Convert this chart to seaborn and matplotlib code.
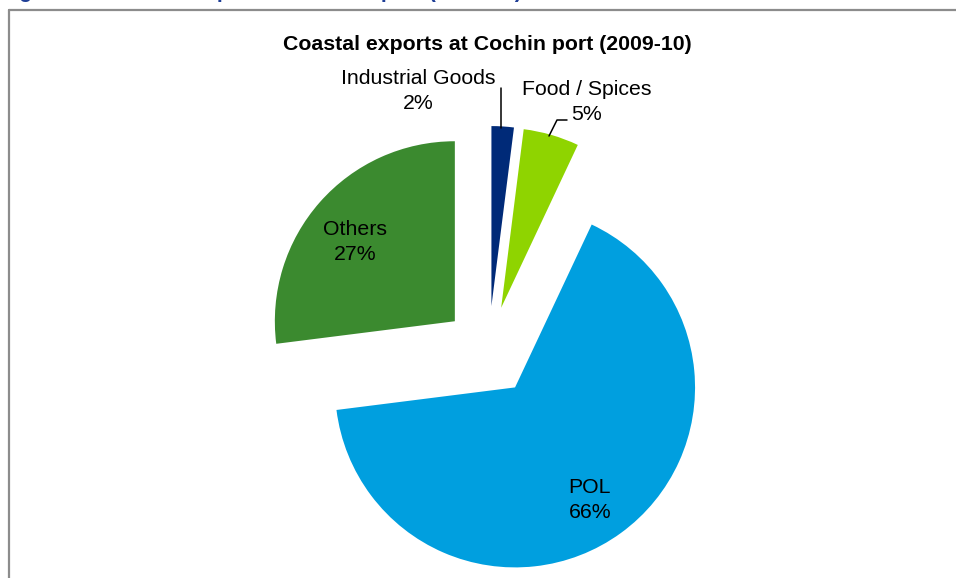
import matplotlib
matplotlib.use("Agg")
import matplotlib.pyplot as plt
from matplotlib.lines import Line2D
import seaborn as sns

# Coastal exports at Cochin port, 2009-10 (share of tonnage, %)
categories = ["Industrial Goods", "Food / Spices", "POL", "Others"]
shares = [2, 5, 66, 27]
colors = ["#002A78", "#8FD400", "#009FDF", "#3B8A2F"]
title = "Coastal exports at Cochin port (2009-10)"
header = "Figure 12: Coastal exports at Cochin port (2009-10)"

sns.set_theme(style="white")
plt.rcParams["font.family"] = ["Liberation Sans", "DejaVu Sans"]

W, H = 956, 578
fig = plt.figure(figsize=(W / 100, H / 100), dpi=100)
ax = fig.add_axes([0, 0, 1, 1])


def px(x, y):
    """Pixel position measured from the top-left corner -> axes data coords."""
    return x, H - y


FS = 15.3
R = 180  # pie radius in pixels

# every slice pulled out by a quarter of the radius (pie adds explode in data units)
ax.pie(
    shares,
    colors=colors,
    startangle=90,
    counterclock=False,
    explode=[0.25 * R] * len(shares),
    radius=R,
    center=px(488.6, 351),
    wedgeprops=dict(linewidth=0),
)
ax.set_xlim(0, W)
ax.set_ylim(0, H)
ax.set_aspect("equal")
ax.axis("off")

labels = [f"{c}\n{v}%" for c, v in zip(categories, shares)]
label_pos = [(418, 91), (587, 102), (590, 500), (355, 242)]
for text, (x, y) in zip(labels, label_pos):
    ax.text(*px(x, y), text, ha="center", va="center", fontsize=FS,
            color="black", linespacing=1.4)

# leader lines for the two thin slices
ax.add_line(Line2D([px(501, 88)[0], px(501, 128)[0]],
                   [px(501, 88)[1], px(501, 128)[1]], color="black", lw=1.1))
lx, ly = zip(px(549, 136), px(557, 120), px(567, 120))
ax.add_line(Line2D(lx, ly, color="black", lw=1.1))

# chart title
ax.text(*px(487.5, 44), title, ha="center", va="center", fontsize=FS,
        fontweight="bold", color="black")

# chart frame (left and top edges visible)
fig.add_artist(Line2D([8.5 / W, 8.5 / W], [0, 1 - 9.5 / H],
                      transform=fig.transFigure, color="#8C8C8C", lw=1.6))
fig.add_artist(Line2D([8.5 / W, 1], [1 - 9.5 / H, 1 - 9.5 / H],
                      transform=fig.transFigure, color="#8C8C8C", lw=1.6))

# figure caption running above the frame
fig.text(0.0, 1 + 3.0 / H, header, ha="left", va="baseline",
         fontsize=15.5, fontweight="bold", color="#1F3E96")

fig.savefig("out.png", dpi=100)
